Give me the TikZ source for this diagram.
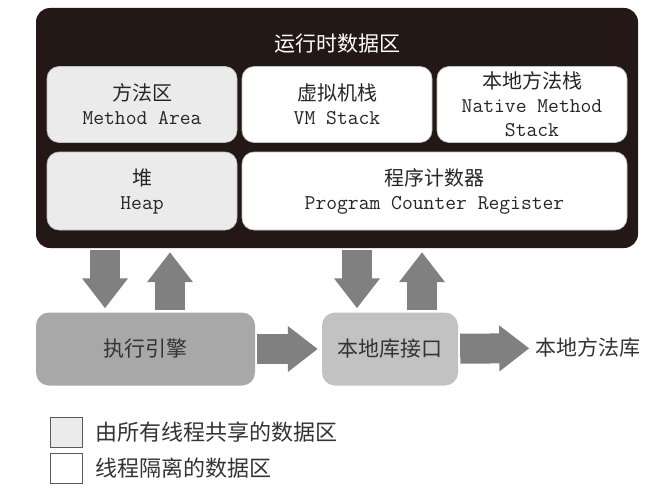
\documentclass[tikz,border=0pt]{standalone}
\usepackage{fontspec}
\newfontfamily\cjkfont{Noto Sans CJK SC}
\usetikzlibrary{arrows.meta,positioning}
\definecolor{rtblack}{HTML}{231815}
\definecolor{shgray}{HTML}{EBEBEB}
\definecolor{arrgray}{HTML}{808080}
\definecolor{enggray}{HTML}{A8A8A8}
\definecolor{jnigray}{HTML}{C2C2C2}
\newcommand{\zhtxt}{\cjkfont\fontsize{20}{24}\selectfont}
\newcommand{\bigzh}{\cjkfont\fontsize{21}{25}\selectfont}
\newcommand{\legzh}{\cjkfont\fontsize{22}{26}\selectfont}
\newcommand{\entxt}{\ttfamily\fontsize{21}{24}\selectfont}
\tikzset{
    area/.style = {rounded corners = 12pt, draw = gray!50, line width = 0.6pt,
                   minimum height = 76pt, inner sep = 0pt, align = center,
                   font = \entxt, text = black!85},
    shared/.style = {area, fill = shgray},
    private/.style = {area, fill = white},
    unit/.style = {rounded corners = 13pt, minimum height = 73pt, inner sep = 0pt,
                   font = \bigzh, text = black!80},
    flow/.style = {draw = arrgray, line width = 30pt, shorten < = 2pt, shorten > = 4pt,
                   -{Triangle[width = 44pt, length = 30pt]}},
    keybox/.style = {draw = black!65, line width = 0.8pt, minimum width = 32pt,
                     minimum height = 30pt, inner sep = 0pt}
}
\begin{document}
\begin{tikzpicture}[x = 1pt, y = -1pt]
    \useasboundingbox (0, 0) rectangle (671, 492);
    \node[fill = rtblack, rounded corners = 14pt, minimum width = 602pt,
          minimum height = 240pt, inner sep = 0pt] (rtda) at (337, 128) {};
    \node[text = white, font = \bigzh] (title) at (337, 44) {运行时数据区};
    \node[shared, minimum width = 190pt] (method) at (142, 104.5) {{\zhtxt 方法区}\\Method Area};
    \node[private, minimum width = 190pt] (vmstack) at (337, 104.5) {{\zhtxt 虚拟机栈}\\VM Stack};
    \node[private, minimum width = 190pt] (nstack) at (532, 104.5) {{\zhtxt 本地方法栈}\\Native Method\\Stack};
    \node[shared, minimum width = 190pt, minimum height = 78pt] (heap) at (142, 191) {{\zhtxt 堆}\\Heap};
    \node[private, minimum width = 385pt, minimum height = 78pt] (pc) at (434.5, 191) {{\zhtxt 程序计数器}\\Program Counter Register};
    \node[unit, fill = enggray, minimum width = 219pt] (exec) at (145.5, 349) {执行引擎};
    \node[unit, fill = jnigray, minimum width = 136pt] (jni) at (390, 349) {本地库接口};
    \node[font = \bigzh, text = black!80, inner sep = 0pt] (lib) at (588, 348) {本地方法库};
    \foreach \x/\a/\b in {105/rtda.south/exec.north, 170/exec.north/rtda.south,
                          357/rtda.south/jni.north, 422/jni.north/rtda.south}
        {\path (\x, 0) coordinate (p);
         \draw[flow] (\a -| p) -- (\b -| p);};
    \draw[flow] (exec) -- (jni);
    \draw[flow, shorten > = 6pt] (jni) -- (lib);
    \node[keybox, fill = shgray] (key1) at (66, 432) {};
    \node[keybox, fill = white] (key2) at (66, 468.5) {};
    \node[right = 13pt of key1, font = \legzh, text = black!80, inner sep = 0pt] (keytxt1) {由所有线程共享的数据区};
    \node[right = 13pt of key2, font = \legzh, text = black!80, inner sep = 0pt] (keytxt2) {线程隔离的数据区};
\end{tikzpicture}
\end{document}
